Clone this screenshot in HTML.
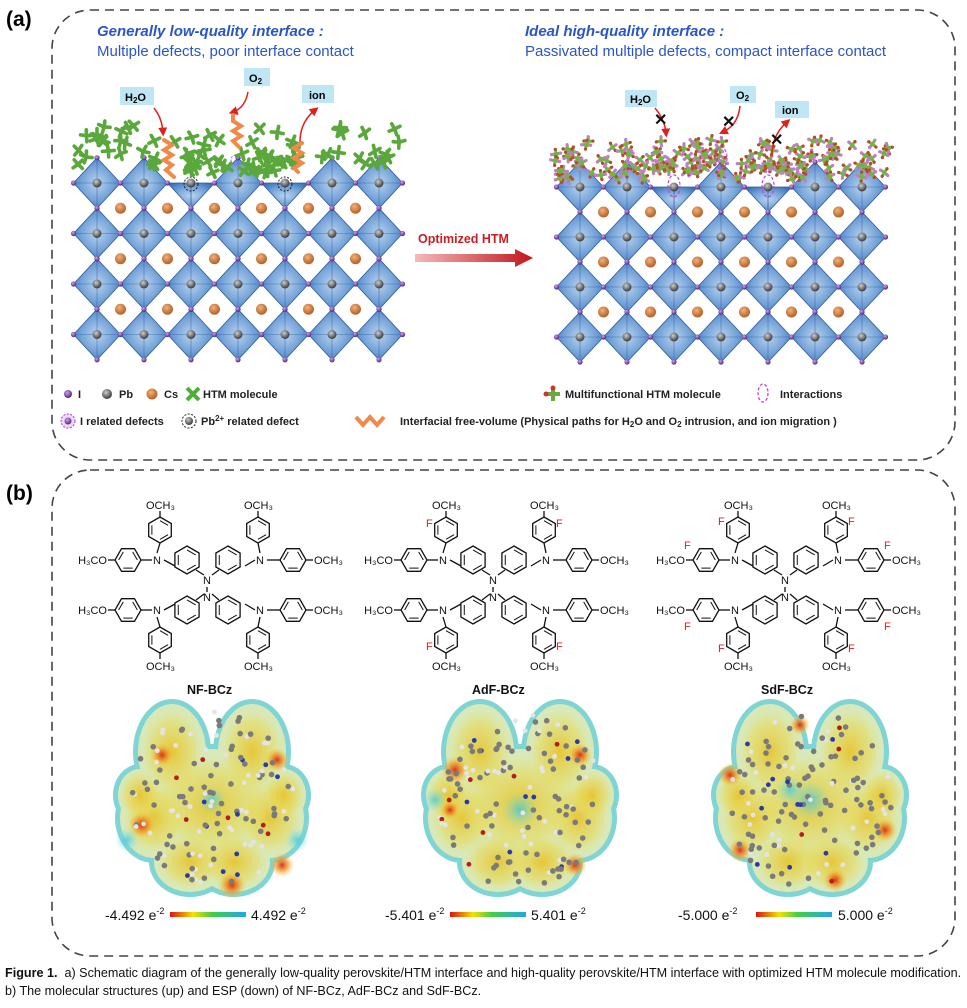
<!DOCTYPE html>
<html><head><meta charset="utf-8"><style>
html,body{margin:0;padding:0;background:#fff;}
body{width:967px;height:1008px;overflow:hidden;position:relative;font-family:"Liberation Sans",sans-serif;}
svg{position:absolute;left:0;top:0;}
.cap{position:absolute;left:5px;top:964px;width:960px;font-size:12.6px;line-height:18px;color:#111;}
</style></head><body>
<svg id="s" width="967" height="1008" viewBox="0 0 967 1008" xmlns="http://www.w3.org/2000/svg" font-family="Liberation Sans, sans-serif">
<defs>
<radialGradient id="oct" cx="50%" cy="50%" r="60%"><stop offset="0" stop-color="#b9d3ef"/><stop offset="0.6" stop-color="#6f9fd6"/><stop offset="1" stop-color="#3d72b8"/></radialGradient>
<radialGradient id="pb" cx="40%" cy="35%" r="60%"><stop offset="0" stop-color="#ccc"/><stop offset="1" stop-color="#444"/></radialGradient>
<radialGradient id="cs" cx="40%" cy="35%" r="60%"><stop offset="0" stop-color="#f2b27a"/><stop offset="1" stop-color="#b8652a"/></radialGradient>
<radialGradient id="ii" cx="40%" cy="35%" r="60%"><stop offset="0" stop-color="#c9a3e8"/><stop offset="1" stop-color="#5b2d8e"/></radialGradient>
<linearGradient id="arr" x1="0" x2="1"><stop offset="0" stop-color="#f4b9b9"/><stop offset="1" stop-color="#c0161c"/></linearGradient>
<linearGradient id="scale" x1="0" x2="1"><stop offset="0" stop-color="#e01010"/><stop offset="0.3" stop-color="#f5e000"/><stop offset="0.55" stop-color="#40d040"/><stop offset="1" stop-color="#20a8e8"/></linearGradient>
<radialGradient id="hot"><stop offset="0" stop-color="#d82a10" stop-opacity="0.95"/><stop offset="0.5" stop-color="#f09020" stop-opacity="0.7"/><stop offset="1" stop-color="#f0d040" stop-opacity="0"/></radialGradient>
<radialGradient id="yel"><stop offset="0" stop-color="#e8c020" stop-opacity="0.85"/><stop offset="0.7" stop-color="#e8d850" stop-opacity="0.5"/><stop offset="1" stop-color="#e8e070" stop-opacity="0"/></radialGradient>
<radialGradient id="cy"><stop offset="0" stop-color="#40c8e0" stop-opacity="0.8"/><stop offset="1" stop-color="#80e0e0" stop-opacity="0"/></radialGradient>
<marker id="ra" markerWidth="6" markerHeight="6" refX="3" refY="3" orient="auto"><path d="M0,0 L6,3 L0,6 z" fill="#e0201c"/></marker>
</defs>
<rect x="52" y="10" width="903" height="450" rx="38" fill="none" stroke="#444" stroke-width="1.6" stroke-dasharray="9,6"/>
<rect x="52" y="470" width="903" height="486" rx="38" fill="none" stroke="#444" stroke-width="1.6" stroke-dasharray="9,6"/>
<text x="6" y="26" font-size="21" font-weight="bold">(a)</text>
<text x="6" y="500" font-size="21" font-weight="bold">(b)</text>
<text x="97" y="36" font-size="15" font-weight="bold" font-style="italic" fill="#2a55c8">Generally low-quality interface :</text>
<text x="97" y="56" font-size="15" fill="#2a55c8">Multiple defects, poor interface contact</text>
<text x="525" y="36" font-size="15" font-weight="bold" font-style="italic" fill="#2a55c8">Ideal high-quality interface :</text>
<text x="525" y="56" font-size="15" fill="#2a55c8">Passivated multiple defects, compact interface contact</text>
<g id="latL"></g><g id="latR"></g><g id="htm"></g>
<rect x="120" y="87" width="34" height="18" fill="#bfe6f5"/><text x="125" y="101" font-size="11" font-weight="bold">H<tspan font-size="8" dy="2">2</tspan><tspan dy="-2">O</tspan></text>
<rect x="244" y="68" width="26" height="18" fill="#bfe6f5"/><text x="249" y="82" font-size="11" font-weight="bold">O<tspan font-size="8" dy="2">2</tspan></text>
<rect x="302" y="85" width="32" height="18" fill="#bfe6f5"/><text x="309" y="99" font-size="11" font-weight="bold">ion</text>
<g fill="none" stroke="#e0201c" stroke-width="1.5">
<path d="M154,108 Q162,118 163,132" marker-end="url(#ra)"/>
<path d="M248,92 Q245,108 233,112" marker-end="url(#ra)"/>
<path d="M300,142 Q300,122 315,110" marker-end="url(#ra)"/>
</g>
<g fill="none" stroke="#f08a4a" stroke-width="4" stroke-linecap="round">
<path d="M164,140 l8,5 -8,5 8,5 -8,5 8,5 -6,5 8,7"/>
<path d="M233,115 l0,6 8,5 -8,5 8,5 -8,5 6,6"/>
<path d="M302,143 l-8,5 8,5 -8,5 8,5 -8,5 4,4"/>
</g>
<rect x="625" y="90" width="32" height="17" fill="#bfe6f5"/><text x="630" y="103" font-size="11" font-weight="bold">H<tspan font-size="8" dy="2">2</tspan><tspan dy="-2">O</tspan></text>
<rect x="730" y="86" width="26" height="17" fill="#bfe6f5"/><text x="736" y="99" font-size="11" font-weight="bold">O<tspan font-size="8" dy="2">2</tspan></text>
<rect x="775" y="101" width="34" height="17" fill="#bfe6f5"/><text x="782" y="114" font-size="11" font-weight="bold">ion</text>
<g id="htmR"></g>
<g fill="none" stroke="#e0201c" stroke-width="1.5">
<path d="M655,108 Q665,120 666,133" marker-end="url(#ra)"/>
<path d="M740,106 Q738,125 723,132" marker-end="url(#ra)"/>
<path d="M772,155 Q772,135 787,122" marker-end="url(#ra)"/>
</g>
<g font-size="16" font-weight="bold" fill="#111"><text x="654" y="125">✕</text><text x="722" y="127">✕</text><text x="770" y="145">✕</text></g>
<text x="418" y="243" font-size="12.5" font-weight="bold" fill="#c81e24">Optimized HTM</text>
<polygon points="415,254 515,254 515,249 533,258 515,267 515,262 415,262" fill="url(#arr)"/>
<g font-size="11" font-weight="bold" fill="#222">
<circle cx="68" cy="394" r="4" fill="url(#ii)"/><text x="78" y="398">I</text>
<circle cx="107" cy="394" r="5" fill="url(#pb)"/><text x="119" y="398">Pb</text>
<circle cx="152" cy="394" r="5.5" fill="url(#cs)"/><text x="164" y="398">Cs</text>
<path d="M187,388 l12,12 M199,388 l-12,12" stroke="#4caf3a" stroke-width="4"/><text x="203" y="398">HTM molecule</text>
<path d="M546,394 l14,0 M553,387 l0,14" stroke="#6aaa3a" stroke-width="4"/><circle cx="553" cy="388" r="2.5" fill="#c33"/><circle cx="546" cy="394" r="2.5" fill="#c33"/><text x="565" y="398">Multifunctional HTM molecule</text>
<ellipse cx="763" cy="393" rx="5" ry="9" fill="none" stroke="#c040e0" stroke-width="1.3" stroke-dasharray="3,2"/><text x="780" y="398">Interactions</text>
<circle cx="68" cy="421" r="7" fill="#f0d8f8" stroke="#a040d0" stroke-dasharray="2,1.5"/><circle cx="68" cy="421" r="3.5" fill="url(#ii)"/><text x="80" y="425">I related defects</text>
<circle cx="189" cy="421" r="7" fill="none" stroke="#222" stroke-dasharray="2,1.5"/><circle cx="189" cy="421" r="4" fill="url(#pb)"/><text x="201" y="425">Pb<tspan font-size="8" dy="-4">2+</tspan><tspan dy="4"> related defect</tspan></text>
<path d="M356,417 l7,8 7,-8 7,8 7,-8" fill="none" stroke="#f08a4a" stroke-width="4"/><text x="400" y="425">Interfacial free-volume (Physical paths for H<tspan font-size="8" dy="2">2</tspan><tspan dy="-2">O and O</tspan><tspan font-size="8" dy="2">2</tspan><tspan dy="-2"> intrusion, and ion migration )</tspan></text>
</g>
<g id="mols"></g>
<g id="esp"></g>
<g font-size="12.5" font-weight="bold" fill="#111">
<text x="187" y="694">NF-BCz</text><text x="472" y="694">AdF-BCz</text><text x="761" y="694">SdF-BCz</text>
</g>
<g font-size="14" fill="#111">
<text x="105" y="920">-4.492 e<tspan font-size="9" dy="-6">-2</tspan></text>
<rect x="170" y="912" width="76" height="5" fill="url(#scale)"/>
<text x="251" y="920">4.492 e<tspan font-size="9" dy="-6">-2</tspan></text>
<text x="385" y="920">-5.401 e<tspan font-size="9" dy="-6">-2</tspan></text>
<rect x="450" y="912" width="76" height="5" fill="url(#scale)"/>
<text x="531" y="920">5.401 e<tspan font-size="9" dy="-6">-2</tspan></text>
<text x="678" y="920">-5.000 e<tspan font-size="9" dy="-6">-2</tspan></text>
<rect x="756" y="912" width="76" height="5" fill="url(#scale)"/>
<text x="838" y="920">5.000 e<tspan font-size="9" dy="-6">-2</tspan></text>
</g>
</svg>
<div class="cap"><b>Figure 1.</b>&nbsp; a) Schematic diagram of the generally low-quality perovskite/HTM interface and high-quality perovskite/HTM interface with optimized HTM molecule modification. b) The molecular structures (up) and ESP (down) of NF-BCz, AdF-BCz and SdF-BCz.</div>
<script>
var NS="http://www.w3.org/2000/svg";
function el(p,t,a){var e=document.createElementNS(NS,t);for(var k in a)e.setAttribute(k,a[k]);p.appendChild(e);return e;}
var seed=7;function rnd(){seed=(seed*16807)%2147483647;return seed/2147483647;}
function lattice(g,x0,y0,dx,dy,cols,rows,flat){
 var hw=dx/2,hh=dy/2;
 for(var r=0;r<rows;r++)for(var c=0;c<cols;c++){
  var cx=x0+c*dx,cy=y0+r*dy;
  if(r==0&&flat.indexOf(c)>=0){
   el(g,'polygon',{points:(cx-hw)+','+cy+' '+(cx+hw)+','+cy+' '+cx+','+(cy+hh),fill:'url(#oct)',stroke:'#2d5a9a','stroke-width':0.8});
   el(g,'path',{d:'M'+cx+','+cy+'L'+cx+','+(cy+hh),stroke:'#2d5a9a','stroke-width':0.7});
  }else{
   el(g,'polygon',{points:cx+','+(cy-hh)+' '+(cx+hw)+','+cy+' '+cx+','+(cy+hh)+' '+(cx-hw)+','+cy,fill:'url(#oct)',stroke:'#2d5a9a','stroke-width':0.8});
   el(g,'path',{d:'M'+(cx-hw)+','+cy+'L'+(cx+hw)+','+cy+'M'+cx+','+(cy-hh)+'L'+cx+','+(cy+hh),stroke:'#2d5a9a','stroke-width':0.6,opacity:0.7});
  }
  el(g,'circle',{cx:cx,cy:cy,r:4.5,fill:'url(#pb)'});
 }
 for(var r=0;r<rows;r++)for(var c=0;c<=cols;c++){
  var vx=x0-hw+c*dx,vy=y0+r*dy; el(g,'circle',{cx:vx,cy:vy,r:2.6,fill:'url(#ii)'});
 }
 for(var r=0;r<rows;r++)for(var c=0;c<cols;c++){
  if(!(r==0&&flat.indexOf(c)>=0))el(g,'circle',{cx:x0+c*dx,cy:y0+r*dy-hh,r:2.6,fill:'url(#ii)'});
  el(g,'circle',{cx:x0+c*dx,cy:y0+r*dy+hh,r:2.6,fill:'url(#ii)'});
 }
 for(var r=0;r<rows-1;r++)for(var c=0;c<cols-1;c++)el(g,'circle',{cx:x0+c*dx+hw,cy:y0+r*dy+hh,r:5.5,fill:'url(#cs)'});
}
lattice(document.getElementById('latL'),97,183,47,50.5,7,4,[2,4]);
lattice(document.getElementById('latR'),580,187,47,50,7,4,[2,4]);
var L=document.getElementById('latL');
el(L,'circle',{cx:191,cy:184,r:7,fill:'none',stroke:'#222','stroke-dasharray':'2,1.5'});
el(L,'circle',{cx:285,cy:184,r:7,fill:'none',stroke:'#222','stroke-dasharray':'2,1.5'});
el(L,'circle',{cx:236,cy:160,r:5,fill:'none',stroke:'#b050e0','stroke-dasharray':'2,1.5'});
var H=document.getElementById('htm');
function xm(g,x,y,s,col,tip,w){
 var a=rnd()*3;
 for(var i=0;i<4;i++){var t=a+i*Math.PI/2+(rnd()-0.5)*0.4;var ex=x+Math.cos(t)*s,ey=y+Math.sin(t)*s;
  el(g,'line',{x1:x,y1:y,x2:ex,y2:ey,stroke:col,'stroke-width':w,'stroke-linecap':'round'});
  if(tip)el(g,'circle',{cx:ex,cy:ey,r:1.6,fill:i%2?'#b84a2b':'#c878d8'});}
}
for(var i=0;i<62;i++){var x=78+rnd()*325,y=122+rnd()*46;if(x>180&&x<300&&y>166)continue;xm(H,x,y,6,'#5aa83c',false,3.6);}
for(var i=0;i<22;i++){var x=185+rnd()*110,y=160+rnd()*14;xm(H,x,y,5.5,'#5aa83c',false,3.6);}
var HR=document.getElementById('htmR');
for(var i=0;i<150;i++){var x=555+rnd()*335,y=140+rnd()*40;if(y>172&&((x>650&&x<695)||(x>745&&x<790)))y-=8;xm(HR,x,y,4.5,'#78b04a',true,3);}
var R=document.getElementById('latR');
[[674,186],[721,158],[768,186]].forEach(function(p){el(HR,'ellipse',{cx:p[0],cy:p[1],rx:6,ry:11,fill:'none',stroke:'#c040e0','stroke-dasharray':'3,2','stroke-width':1.2});});
var M=document.getElementById('mols');
function hex(g,cx,cy,r,vert){var p=[];for(var i=0;i<6;i++){var t=(vert?0:Math.PI/6)+i*Math.PI/3;p.push((cx+r*Math.sin(t)).toFixed(1)+','+(cy-r*Math.cos(t)).toFixed(1));}
 el(g,'polygon',{points:p.join(' '),fill:'none',stroke:'#111','stroke-width':1.3});
 for(var i=0;i<6;i+=2){var t1=(vert?0:Math.PI/6)+i*Math.PI/3,t2=t1+Math.PI/3,q=r*0.72;el(g,'line',{x1:cx+q*Math.sin(t1),y1:cy-q*Math.cos(t1),x2:cx+q*Math.sin(t2),y2:cy-q*Math.cos(t2),stroke:'#111','stroke-width':1});}
}
function T(g,x,y,s,col,anch){var t=el(g,'text',{x:x,y:y,'font-size':11,fill:col||'#111','text-anchor':anch||'start'});t.textContent=s;return t;}
function L2(g,a,b,c,d){el(g,'line',{x1:a,y1:b,x2:c,y2:d,stroke:'#111','stroke-width':1.3});}
function mol(dx,fmode){
 var g=el(M,'g',{transform:'translate('+dx+',0)'});
 hex(g,128,560,13,false);hex(g,128,610,13,false);hex(g,293,560,13,false);hex(g,293,610,13,false);
 hex(g,160,530,13,true);hex(g,160,640,13,true);hex(g,258,530,13,true);hex(g,258,640,13,true);
 hex(g,187,560,14,true);hex(g,228,560,14,true);hex(g,187,610,14,true);hex(g,228,610,14,true);
 T(g,153,564,'N');T(g,256,564,'N');T(g,153,614,'N');T(g,256,614,'N');T(g,203,584,'N');T(g,203,601,'N');
 L2(g,141,560,152,560);L2(g,164,560,175,566);L2(g,267,560,280,560);L2(g,245,566,255,560);
 L2(g,141,610,152,610);L2(g,164,610,175,604);L2(g,267,610,280,610);L2(g,245,604,255,610);
 L2(g,160,543,157,553);L2(g,258,543,260,553);L2(g,160,627,157,617);L2(g,258,627,260,617);
 L2(g,196,570,204,575);L2(g,219,570,212,575);L2(g,196,600,204,594);L2(g,219,600,212,594);L2(g,207,587,207,592);
 L2(g,115,560,108,560);L2(g,306,560,313,560);L2(g,115,610,108,610);L2(g,306,610,313,610);
 L2(g,160,517,160,511);L2(g,258,517,258,511);L2(g,160,653,160,659);L2(g,258,653,258,659);
 T(g,107,564,'H₃CO','#111','end');T(g,107,614,'H₃CO','#111','end');
 T(g,314,564,'OCH₃');T(g,314,614,'OCH₃');
 T(g,146,509,'OCH₃');T(g,244,509,'OCH₃');T(g,146,670,'OCH₃');T(g,244,670,'OCH₃');
 if(fmode==1){T(g,140,527,'F','#e02020');T(g,270,527,'F','#e02020');T(g,140,650,'F','#e02020');T(g,270,650,'F','#e02020');}
 if(fmode==2){T(g,140,525,'F','#e02020');T(g,270,525,'F','#e02020');T(g,140,652,'F','#e02020');T(g,270,652,'F','#e02020');
  T(g,106,549,'F','#e02020');T(g,306,549,'F','#e02020');T(g,106,630,'F','#e02020');T(g,306,630,'F','#e02020');}
}
mol(0,0);mol(286,1);mol(578,2);
var E=document.getElementById('esp');
function blob(cx,cy,hots,cyan){
 var g=el(E,'g',{});
 var lobes=[[-40,-48,36,50],[40,-48,36,50],[-58,18,36,42],[58,18,36,42],[-22,62,38,32],[22,62,38,32],[0,5,66,58],[-72,-5,24,28],[72,-5,24,28]];
 lobes.forEach(function(l){el(g,'ellipse',{cx:cx+l[0],cy:cy+l[1],rx:l[2]+3,ry:l[3]+3,fill:'#7fd4d4'});});
 lobes.forEach(function(l){el(g,'ellipse',{cx:cx+l[0],cy:cy+l[1],rx:l[2]-2,ry:l[3]-2,fill:'#d8e8b8'});});
 lobes.forEach(function(l){el(g,'ellipse',{cx:cx+l[0],cy:cy+l[1],rx:l[2]*0.85,ry:l[3]*0.85,fill:'url(#yel)'});});
 hots.forEach(function(h){el(g,'circle',{cx:cx+h[0],cy:cy+h[1],r:h[2],fill:'url(#hot)'});});
 cyan.forEach(function(h){el(g,'circle',{cx:cx+h[0],cy:cy+h[1],r:h[2],fill:'url(#cy)'});});
 for(var i=0;i<130;i++){var a=rnd()*6.28,rr=Math.sqrt(rnd())*82;var x=cx+Math.cos(a)*rr,y=cy+Math.sin(a)*rr*1.08;
  var c=rnd();el(g,'circle',{cx:x,cy:y,r:c<0.6?2.8:2.4,fill:c<0.6?'#7a7a7a':c<0.88?'#e4e4e4':(c<0.95?'#2a3aa8':'#b02020')});}
}
blob(212,800,[[-70,25,14],[-50,-45,12],[65,-40,12],[70,65,12],[20,85,14]],[[-85,40,12],[85,40,12],[0,0,14]]);
blob(520,800,[[-65,-30,14],[60,-45,12],[55,65,12],[-70,10,10]],[[0,10,18],[-85,0,12]]);
blob(810,800,[[-80,-25,12],[-70,50,12],[75,30,12],[25,80,12],[-10,-75,10]],[[0,0,20],[-20,-10,14]]);
</script>
</body></html>
